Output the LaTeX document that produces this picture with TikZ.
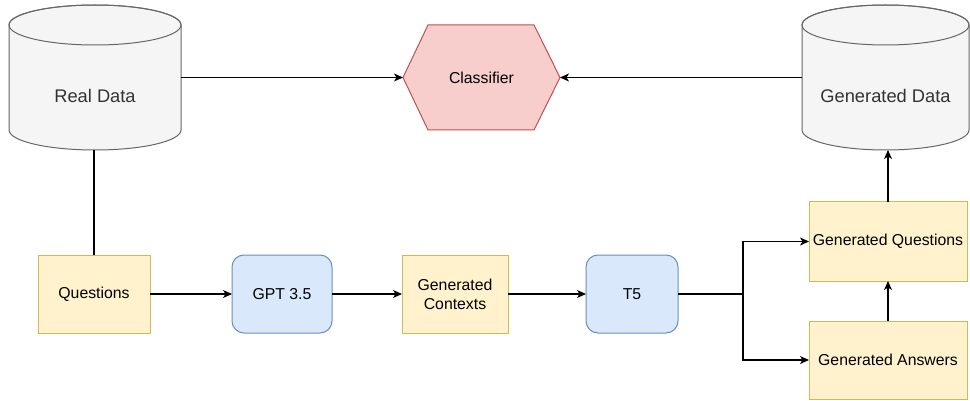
\documentclass[tikz,border=0pt]{standalone}
\usepackage{fontspec}
\setmainfont{Liberation Sans}
\usetikzlibrary{arrows.meta}
\definecolor{cylfill}{HTML}{F5F5F5}
\definecolor{cyldraw}{HTML}{666666}
\definecolor{cyltext}{HTML}{333333}
\definecolor{redfill}{HTML}{F8CECC}
\definecolor{reddraw}{HTML}{B85450}
\definecolor{yelfill}{HTML}{FFF2CC}
\definecolor{yeldraw}{HTML}{D6B656}
\definecolor{bluefill}{HTML}{DAE8FC}
\definecolor{bluedraw}{HTML}{6C8EBF}
\tikzset{
  frame/.style={inner sep=0pt, outer sep=0pt, anchor=north west},
  yelbox/.style={frame, draw=yeldraw, fill=yelfill, line width=1pt, align=center,
     font=\fontsize{15.8}{18.8}\selectfont},
  bluebox/.style={frame, draw=bluedraw, fill=bluefill, line width=1pt, rounded corners=12pt,
     align=center, font=\fontsize{15.8}{18.8}\selectfont},
  cyllabel/.style={text=cyltext, font=\fontsize{18.3}{21}\selectfont, inner sep=0pt},
  link/.style={line width=1.1pt, draw=black},
  arrowlink/.style={link, -{Stealth[length=9pt,width=8pt,inset=2.5pt]}},
}
\newcommand{\mycyl}[5]{% left, right, top, bottom, ry
  \pgfmathsetmacro{\cx}{(#1+#2)/2}
  \pgfmathsetmacro{\rx}{(#2-#1)/2}
  \filldraw[fill=cylfill, draw=cyldraw, line width=1pt]
    (#1,#3-#5) -- (#1,#4+#5) arc[start angle=180,end angle=360,x radius=\rx,y radius=#5]
    -- (#2,#3-#5) arc[start angle=0,end angle=180,x radius=\rx,y radius=#5] -- cycle;
  \draw[draw=cyldraw, line width=1pt] (\cx,#3-#5) ellipse[x radius=\rx, y radius=#5];
}
\begin{document}
\begin{tikzpicture}[x=1pt,y=1pt]
\useasboundingbox (0,0) rectangle (970,-401);
% cylinders
\mycyl{9}{181}{-5}{-150}{20}
\node[frame, minimum width=172pt, minimum height=145pt] (real) at (9,-5) {};
\node[cyllabel] (reallbl) at (95,-96) {Real Data};
\mycyl{802}{969}{-5}{-150}{20}
\node[frame, minimum width=167pt, minimum height=145pt] (gen) at (802,-5) {};
\node[cyllabel] (genlbl) at (885.5,-96) {Generated Data};
% classifier hexagon
\filldraw[fill=redfill, draw=reddraw, line width=1pt]
  (403,-77.5) -- (428,-25) -- (534,-25) -- (560,-77.5) -- (534,-130) -- (428,-130) -- cycle;
\node[frame, minimum width=157pt, minimum height=105pt,
  font=\fontsize{15.8}{18.8}\selectfont] (cls) at (403,-25) {Classifier};
% boxes
\node[yelbox, minimum width=112pt, minimum height=78pt] (q) at (38,-255) {Questions};
\node[bluebox, minimum width=100pt, minimum height=78pt] (gpt) at (232,-255) {GPT 3.5};
\node[yelbox, minimum width=106pt, minimum height=78pt] (ctx) at (402,-255) {Generated\\Contexts};
\node[bluebox, minimum width=92pt, minimum height=78pt] (t5) at (586,-255) {T5};
\node[yelbox, minimum width=158pt, minimum height=79pt] (gq) at (809,-202) {Generated Questions};
\node[yelbox, minimum width=158pt, minimum height=78pt] (ga) at (809,-321) {Generated Answers};
\coordinate (fork) at (743,-294);
% connectors
\draw[arrowlink] (real.east) -- (cls.west);
\draw[arrowlink] (gen.west) -- (cls.east);
\draw[link] (q.north) -- (q.north |- real.south);
\draw[arrowlink] (q.east) -- (gpt.west);
\draw[arrowlink] (gpt.east) -- (ctx.west);
\draw[arrowlink] (ctx.east) -- (t5.west);
\draw[link] (t5.east) -- (fork);
\draw[arrowlink] (fork) |- (gq.west);
\draw[arrowlink] (fork) |- (ga.west);
\draw[arrowlink] (ga.north) -- (gq.south);
\draw[arrowlink] (gq.north) -- (gq.north |- gen.south);
\end{tikzpicture}
\end{document}
